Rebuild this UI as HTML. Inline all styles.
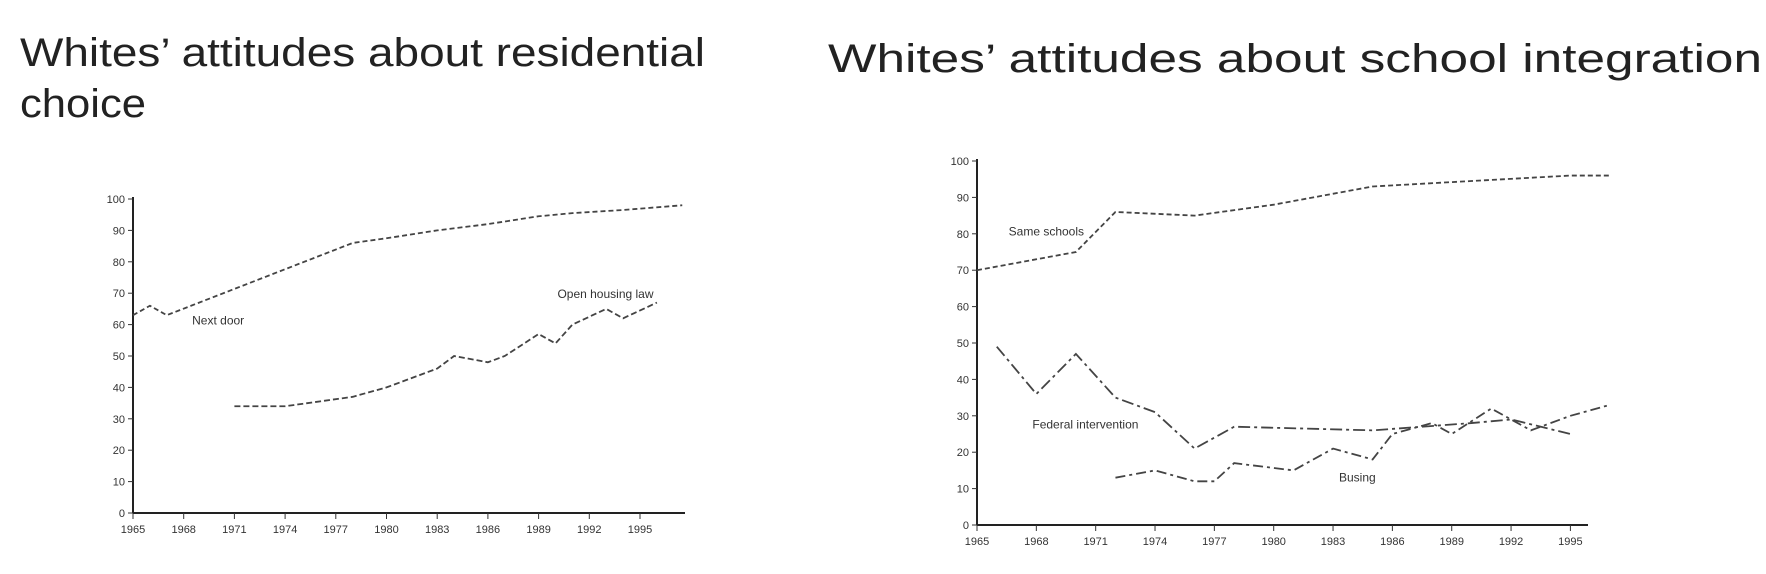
<!DOCTYPE html>
<html><head><meta charset="utf-8"><style>
html,body{margin:0;padding:0;background:#fff;}
svg{display:block;}
text{font-family:"Liberation Sans",sans-serif;}
</style></head><body>
<svg id="root" width="1766" height="574" viewBox="0 0 1766 574">
<text x="20" y="66" font-size="40" fill="#222" textLength="685" lengthAdjust="spacingAndGlyphs">Whites’ attitudes about residential</text>
<text x="20" y="117" font-size="40" fill="#222" textLength="126" lengthAdjust="spacingAndGlyphs">choice</text>
<text x="828" y="72" font-size="40" fill="#222" textLength="934" lengthAdjust="spacingAndGlyphs">Whites’ attitudes about school integration</text>
<g id="left"></g>
<g id="right"></g>
</svg>
<script>
const ns="http://www.w3.org/2000/svg";
const yTicks=[0,10,20,30,40,50,60,70,80,90,100];
const xTicks=[1965,1968,1971,1974,1977,1980,1983,1986,1989,1992,1995];
// Left chart data
const nextDoorYears=[1965,1966,1967,1978,1980,1983,1986,1989,1991,1994,1997.5];
const nextDoorVals=[63,66,63,86,87.5,90,92,94.5,95.5,96.5,98];
const openHousingYears=[1971,1974,1978,1980,1983,1984,1986,1987,1989,1990,1991,1993,1994,1996];
const openHousingVals=[34,34,37,40,46,50,48,50,57,54,60,65,62,67];
// Right chart data
const sameSchoolsYears=[1965,1970,1972,1976,1980,1985,1990,1995,1997];
const sameSchoolsVals=[70,75,86,85,88,93,94.5,96,96];
const federalYears=[1966,1968,1970,1972,1974,1976,1978,1985,1990,1992,1995];
const federalVals=[49,36,47,35,31,21,27,26,28,29,25];
const busingYears=[1972,1974,1976,1977,1978,1981,1983,1985,1986,1988,1989,1991,1993,1995,1997];
const busingVals=[13,15,12,12,17,15,21,18,25,28,25,32,26,30,33];

function el(p,t,a){const e=document.createElementNS(ns,t);for(const k in a)e.setAttribute(k,a[k]);p.appendChild(e);return e;}
function makeChart(g,cfg){
  const X=y=>cfg.x0+(y-1965)*cfg.pxYr;
  const Y=v=>cfg.y0-(v)*(cfg.y0-cfg.y100)/100;
  const ax=el(g,'line',{x1:X(1965),y1:Y(0),x2:X(1965),y2:Y(100)-2,stroke:'#222','stroke-width':2});
  
  
  const xx=el(g,'line',{x1:X(1965),y1:Y(0),x2:cfg.xEnd,y2:Y(0),stroke:'#222','stroke-width':2});
  
  
  yTicks.forEach(v=>{
    el(g,'line',{x1:X(1965)-5,y1:Y(v),x2:X(1965),y2:Y(v),stroke:'#333','stroke-width':1});
    const t=el(g,'text',{x:X(1965)-8,y:Y(v)+4,'font-size':11,'text-anchor':'end',fill:'#333'});
    t.textContent=v;
    
    
  });
  xTicks.forEach(v=>{
    el(g,'line',{x1:X(v),y1:Y(0),x2:X(v),y2:Y(0)+6,stroke:'#333','stroke-width':1});
    const t=el(g,'text',{x:X(v),y:Y(0)+20,'font-size':11,'text-anchor':'middle',fill:'#333'});
    t.textContent=v;
    
    
  });
  cfg.series.forEach(s=>{
    const pts=s.years.map((y,i)=>X(y)+','+Y(s.vals[i])).join(' ');
    const p=el(g,'polyline',{points:pts,fill:'none',stroke:'#444','stroke-width':1.8,'stroke-dasharray':s.dash});
    
    
  });
  cfg.labels.forEach(l=>{
    const t=el(g,'text',{x:X(l.yr),y:Y(l.v),'font-size':12,fill:'#333','text-anchor':l.anchor||'start'});
    t.textContent=l.text;
    
    
  });
}
makeChart(document.getElementById('left'),{x0:133,pxYr:16.9,y0:513,y100:199,xEnd:685,
  series:[{years:nextDoorYears,vals:nextDoorVals,dash:'5,3',name:'next-door-line'},
          {years:openHousingYears,vals:openHousingVals,dash:'6,3',name:'open-housing-line'}],
  labels:[{yr:1968.5,v:60,text:'Next door'},{yr:1995.8,v:68.5,text:'Open housing law',anchor:'end'}]});
makeChart(document.getElementById('right'),{x0:977,pxYr:19.78,y0:525,y100:161,xEnd:1588,
  series:[{years:sameSchoolsYears,vals:sameSchoolsVals,dash:'5,3',name:'same-schools-line'},
          {years:federalYears,vals:federalVals,dash:'12,4,3,4',name:'federal-intervention-line'},
          {years:busingYears,vals:busingVals,dash:'10,4,3,4',name:'busing-line'}],
  labels:[{yr:1966.6,v:79.5,text:'Same schools'},{yr:1967.8,v:26.5,text:'Federal intervention'},{yr:1983.3,v:12,text:'Busing'}]});
</script>
</body></html>
